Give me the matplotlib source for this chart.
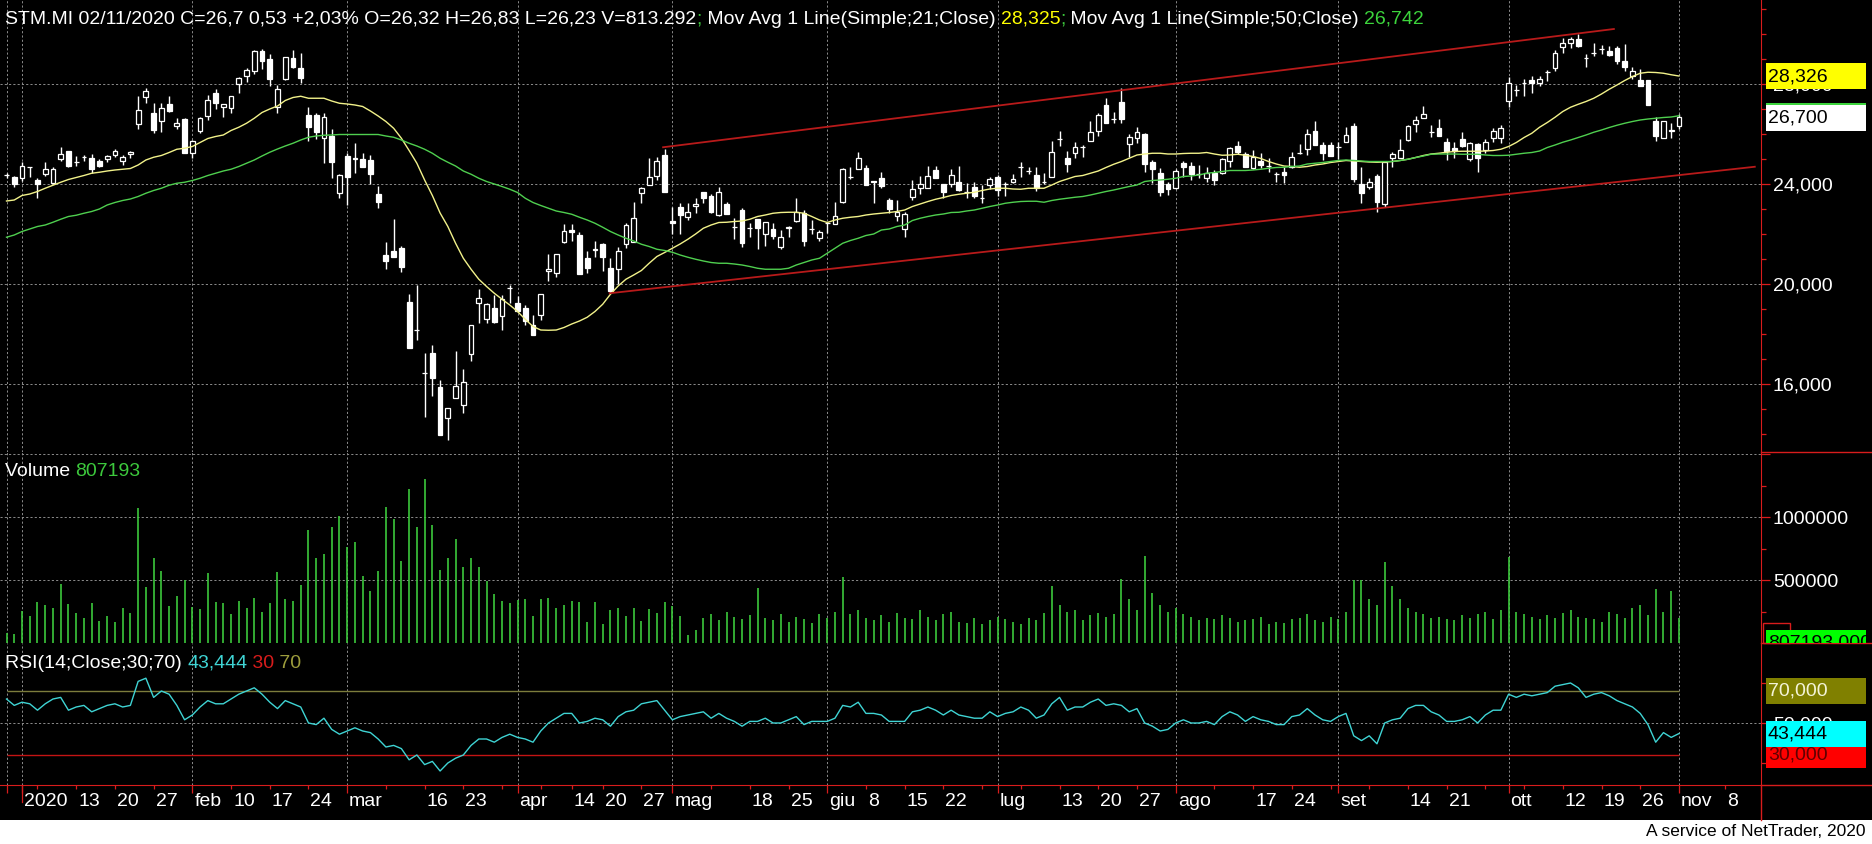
import matplotlib.pyplot as plt
import matplotlib.transforms as mtransforms
import numpy as np
import pandas as pd
from matplotlib.patches import Rectangle
from matplotlib.ticker import FixedLocator, FuncFormatter, MultipleLocator

plt.switch_backend("Agg")
plt.rcParams["font.family"] = ["Liberation Sans", "DejaVu Sans"]

# STM.MI daily bars, 30/12/2019 .. 02/11/2020
holidays = ["2020-01-01", "2020-04-10", "2020-04-13", "2020-05-01"]

opens = [
    24.37, 24.31, 24.24, 24.68, 24.17, 24.40, 24.07, 25.00, 25.33, 24.90,
    25.08, 25.07, 24.93, 25.00, 25.16, 24.95, 25.23, 26.40, 27.48, 26.84,
    26.52, 27.20, 26.35, 26.60, 25.27, 26.12, 26.72, 27.64, 27.11, 27.07,
    28.00, 28.33, 28.52, 29.32, 29.01, 27.08, 28.23, 29.05, 28.67, 26.77,
    26.77, 25.84, 25.93, 23.64, 25.13, 25.01, 25.01, 24.97, 23.61, 21.17,
    21.35, 21.44, 19.28, 18.19, 16.47, 17.24, 15.91, 14.64, 15.44, 15.17,
    17.21, 19.24, 18.60, 19.07, 18.73, 19.87, 19.24, 19.04, 18.36, 18.77,
    20.55, 20.44, 21.68, 22.19, 21.97, 21.07, 21.37, 21.60, 20.64, 20.60,
    21.60, 21.71, 23.64, 23.97, 24.33, 25.17, 22.52, 23.08, 22.68, 23.13,
    23.68, 23.55, 22.77, 23.21, 22.31, 22.97, 22.27, 22.60, 22.00, 22.20,
    21.51, 22.25, 22.55, 22.87, 22.20, 21.84, 22.47, 22.41, 23.31, 24.31,
    24.60, 24.64, 24.12, 24.24, 23.37, 22.73, 22.20, 23.51, 23.84, 23.84,
    24.57, 24.01, 24.01, 24.11, 23.68, 23.91, 23.47, 23.97, 24.31, 24.01,
    24.08, 24.69, 24.53, 24.37, 24.11, 24.31, 25.83, 25.07, 25.27, 25.51,
    25.75, 26.15, 27.16, 26.60, 27.29, 25.60, 25.84, 26.01, 24.88, 24.47,
    24.01, 23.84, 24.87, 24.73, 24.40, 24.24, 24.47, 24.44, 24.95, 25.53,
    25.21, 24.64, 24.93, 24.73, 24.40, 24.49, 24.68, 25.27, 25.40, 26.15,
    25.57, 25.57, 25.51, 25.69, 26.35, 24.01, 23.88, 24.33, 23.21, 25.04,
    25.04, 25.76, 26.40, 26.67, 26.11, 26.24, 25.71, 25.47, 25.80, 25.00,
    25.60, 25.37, 25.87, 25.84, 27.33, 27.77, 28.07, 28.17, 28.04, 28.48,
    28.67, 29.51, 29.67, 29.81, 29.04, 29.24, 29.41, 29.33, 29.44, 28.95,
    28.35, 28.17, 28.17, 26.53, 25.87, 26.15, 26.32,
]
highs = [
    24.47, 24.33, 24.91, 24.71, 24.24, 24.88, 24.68, 25.48, 25.35, 25.15,
    25.17, 25.20, 25.00, 25.17, 25.41, 25.17, 25.33, 27.53, 27.87, 27.24,
    27.24, 27.52, 26.67, 26.67, 25.77, 26.68, 27.57, 27.80, 27.20, 27.55,
    28.31, 28.64, 29.37, 29.41, 29.21, 27.97, 29.11, 29.37, 29.27, 27.08,
    26.84, 26.84, 26.20, 24.41, 25.24, 25.64, 25.24, 25.17, 23.93, 21.69,
    22.60, 21.53, 19.60, 19.97, 17.27, 17.57, 16.17, 15.07, 17.33, 16.60,
    18.39, 19.81, 19.24, 19.57, 19.57, 19.97, 19.55, 19.17, 18.77, 19.60,
    21.20, 21.20, 22.41, 22.41, 22.08, 21.33, 21.73, 21.64, 21.04, 21.51,
    22.47, 23.28, 23.91, 25.04, 25.11, 25.41, 23.08, 23.24, 23.24, 23.44,
    23.68, 23.60, 23.91, 23.28, 22.64, 23.04, 22.44, 22.60, 22.51, 22.47,
    22.17, 22.33, 23.44, 22.97, 22.57, 22.17, 22.51, 23.31, 24.67, 24.71,
    25.28, 24.76, 24.15, 24.51, 23.44, 23.37, 22.88, 24.17, 24.33, 24.73,
    24.73, 24.01, 24.60, 24.73, 24.07, 24.11, 23.97, 24.31, 24.37, 24.11,
    24.40, 24.88, 24.71, 24.71, 24.47, 25.73, 26.13, 25.33, 25.71, 25.57,
    26.53, 26.84, 27.44, 26.91, 27.84, 26.01, 26.28, 26.04, 24.97, 24.64,
    24.11, 24.60, 24.95, 24.91, 24.77, 24.71, 24.57, 25.07, 25.51, 25.73,
    25.31, 25.37, 25.27, 25.04, 24.51, 24.71, 25.31, 25.61, 26.21, 26.53,
    25.68, 25.71, 25.68, 26.31, 26.44, 24.71, 24.24, 24.41, 24.95, 25.31,
    25.80, 26.37, 26.73, 27.13, 26.37, 26.61, 25.84, 25.71, 26.08, 25.71,
    25.67, 25.80, 26.24, 26.37, 28.31, 27.97, 28.21, 28.33, 28.33, 28.57,
    29.37, 29.87, 29.91, 30.01, 29.21, 29.67, 29.57, 29.53, 29.53, 29.60,
    28.71, 28.60, 28.17, 26.71, 26.53, 26.47, 26.83,
]
lows = [
    24.24, 23.91, 24.15, 24.31, 23.44, 24.35, 24.01, 24.95, 24.69, 24.75,
    24.95, 24.44, 24.68, 24.91, 25.11, 24.79, 25.07, 26.20, 27.24, 26.04,
    26.08, 26.88, 26.20, 25.24, 25.07, 26.07, 26.57, 27.00, 26.68, 26.84,
    27.64, 28.08, 28.40, 28.61, 27.95, 26.84, 28.17, 28.67, 28.07, 25.75,
    25.80, 24.87, 24.27, 23.44, 23.17, 24.44, 24.71, 24.01, 23.07, 20.63,
    21.08, 20.51, 17.44, 17.77, 14.68, 15.53, 13.97, 13.77, 15.44, 14.84,
    16.93, 18.47, 18.44, 18.44, 18.17, 19.24, 18.91, 18.37, 17.97, 18.57,
    20.15, 20.28, 21.64, 21.75, 20.41, 20.47, 21.11, 20.55, 19.64, 20.01,
    21.44, 21.71, 23.24, 23.97, 24.17, 23.71, 22.01, 22.01, 22.57, 22.84,
    23.27, 22.87, 22.73, 22.81, 21.80, 21.51, 21.91, 21.40, 21.55, 21.80,
    21.40, 21.88, 22.51, 21.55, 22.01, 21.75, 22.04, 22.40, 23.27, 24.20,
    24.60, 23.97, 23.27, 23.84, 22.87, 22.55, 21.88, 23.37, 23.61, 23.84,
    24.24, 23.47, 23.88, 23.75, 23.44, 23.44, 23.24, 23.80, 23.55, 23.55,
    24.04, 24.31, 24.40, 23.73, 24.01, 24.28, 25.53, 24.51, 25.07, 25.11,
    25.75, 25.93, 26.47, 26.47, 26.44, 25.11, 25.64, 24.51, 24.04, 23.53,
    23.57, 23.80, 24.31, 24.17, 24.24, 24.11, 23.97, 24.40, 24.71, 25.21,
    24.68, 24.60, 24.64, 24.51, 24.11, 24.07, 24.64, 25.21, 25.17, 25.57,
    24.97, 25.13, 25.01, 25.69, 24.11, 23.24, 23.81, 22.91, 23.11, 24.71,
    25.04, 25.75, 26.11, 26.67, 25.88, 25.93, 24.97, 25.04, 25.51, 24.95,
    24.51, 25.27, 25.68, 25.64, 27.11, 27.55, 27.55, 27.67, 27.93, 28.13,
    28.55, 29.27, 29.44, 29.51, 28.71, 29.15, 29.20, 29.15, 28.80, 28.53,
    28.21, 27.95, 27.17, 25.75, 25.87, 25.87, 26.23,
]
closes = [
    24.38, 24.00, 24.73, 24.69, 24.01, 24.60, 24.60, 25.20, 24.71, 24.88,
    25.10, 24.60, 24.75, 25.12, 25.32, 25.08, 25.31, 26.96, 27.71, 26.17,
    27.03, 26.91, 26.44, 25.27, 25.71, 26.64, 27.37, 27.24, 27.20, 27.52,
    28.24, 28.56, 29.32, 28.95, 28.20, 27.80, 29.08, 28.71, 28.27, 26.31,
    26.11, 26.68, 24.87, 24.37, 24.31, 25.07, 24.71, 24.41, 23.31, 20.95,
    21.11, 20.71, 17.44, 18.17, 16.45, 16.24, 13.97, 15.07, 15.93, 16.08,
    18.39, 19.44, 19.20, 18.49, 19.40, 19.84, 18.91, 18.51, 17.97, 19.60,
    20.60, 21.20, 22.15, 22.11, 20.41, 20.64, 21.41, 21.11, 19.75, 21.35,
    22.37, 22.64, 23.87, 24.28, 24.93, 23.71, 22.44, 22.77, 22.87, 23.21,
    23.44, 22.91, 23.67, 22.81, 22.28, 21.64, 22.25, 22.24, 22.48, 21.91,
    21.91, 22.28, 22.91, 21.75, 22.20, 22.11, 22.44, 22.71, 24.60, 24.31,
    25.04, 23.97, 24.09, 23.91, 23.01, 22.91, 22.81, 23.80, 24.00, 24.33,
    24.24, 23.71, 24.36, 23.75, 23.68, 23.51, 23.47, 24.20, 23.77, 24.01,
    24.20, 24.69, 24.53, 23.84, 24.11, 25.31, 25.83, 24.80, 25.48, 25.51,
    26.11, 26.75, 26.47, 26.60, 26.60, 25.88, 26.11, 24.80, 24.60, 23.67,
    23.83, 24.53, 24.71, 24.41, 24.40, 24.47, 24.17, 25.01, 25.44, 25.31,
    24.71, 25.11, 24.77, 24.73, 24.40, 24.37, 25.08, 25.27, 26.00, 25.57,
    25.27, 25.13, 25.51, 25.97, 24.23, 23.64, 24.11, 23.31, 24.91, 25.20,
    25.35, 26.33, 26.57, 26.80, 26.11, 25.93, 25.33, 25.33, 25.51, 25.64,
    25.07, 25.71, 26.15, 26.27, 28.04, 27.77, 28.07, 28.04, 28.20, 28.48,
    29.24, 29.64, 29.81, 29.51, 29.04, 29.24, 29.41, 29.15, 28.95, 28.67,
    28.55, 27.95, 27.17, 25.93, 26.53, 26.17, 26.70,
]
ma21 = [
    23.33, 23.37, 23.55, 23.61, 23.71, 23.84, 23.96, 24.08, 24.19, 24.27,
    24.35, 24.44, 24.48, 24.53, 24.57, 24.60, 24.63, 24.77, 24.97, 25.08,
    25.15, 25.27, 25.40, 25.44, 25.51, 25.67, 25.83, 25.91, 25.97, 26.15,
    26.28, 26.44, 26.64, 26.87, 27.01, 27.13, 27.35, 27.47, 27.52, 27.44,
    27.44, 27.44, 27.33, 27.24, 27.21, 27.17, 27.11, 26.93, 26.73, 26.51,
    26.24, 25.84, 25.35, 24.84, 24.17, 23.55, 22.85, 22.31, 21.64, 21.04,
    20.60, 20.20, 19.91, 19.64, 19.40, 19.17, 18.91, 18.60, 18.31, 18.17,
    18.16, 18.17, 18.27, 18.41, 18.53, 18.68, 18.91, 19.20, 19.60, 19.93,
    20.20, 20.37, 20.55, 20.84, 21.11, 21.27, 21.44, 21.61, 21.80, 22.01,
    22.24, 22.37, 22.47, 22.48, 22.51, 22.53, 22.60, 22.71, 22.77, 22.84,
    22.87, 22.88, 22.88, 22.84, 22.71, 22.57, 22.47, 22.57, 22.64, 22.68,
    22.71, 22.77, 22.81, 22.84, 22.87, 22.91, 22.97, 23.11, 23.21, 23.31,
    23.40, 23.47, 23.55, 23.60, 23.64, 23.68, 23.75, 23.81, 23.84, 23.84,
    23.81, 23.80, 23.84, 23.84, 23.84, 23.97, 24.11, 24.21, 24.31, 24.35,
    24.44, 24.53, 24.67, 24.80, 24.91, 25.04, 25.17, 25.21, 25.24, 25.24,
    25.21, 25.21, 25.23, 25.24, 25.24, 25.27, 25.21, 25.16, 25.17, 25.20,
    25.16, 25.11, 25.03, 24.91, 24.81, 24.73, 24.71, 24.68, 24.71, 24.77,
    24.81, 24.87, 24.91, 24.95, 24.93, 24.91, 24.89, 24.88, 24.89, 24.91,
    24.95, 25.00, 25.07, 25.15, 25.21, 25.24, 25.28, 25.31, 25.32, 25.32,
    25.32, 25.33, 25.35, 25.40, 25.51, 25.67, 25.87, 26.04, 26.28, 26.47,
    26.68, 26.91, 27.08, 27.20, 27.31, 27.44, 27.61, 27.80, 27.97, 28.15,
    28.31, 28.44, 28.48, 28.47, 28.44, 28.38, 28.33,
]
ma50 = [
    21.88, 21.97, 22.11, 22.21, 22.31, 22.37, 22.48, 22.60, 22.71, 22.76,
    22.84, 22.91, 23.01, 23.17, 23.27, 23.35, 23.41, 23.51, 23.64, 23.75,
    23.84, 23.96, 24.04, 24.08, 24.15, 24.24, 24.35, 24.44, 24.53, 24.60,
    24.71, 24.84, 24.97, 25.13, 25.28, 25.41, 25.53, 25.64, 25.77, 25.88,
    25.93, 25.96, 25.97, 25.99, 25.99, 25.99, 25.99, 25.99, 25.99, 25.93,
    25.88, 25.77, 25.64, 25.53, 25.40, 25.24, 25.04, 24.88, 24.73, 24.53,
    24.40, 24.24, 24.11, 24.01, 23.91, 23.80, 23.67, 23.44, 23.27, 23.15,
    23.04, 22.93, 22.87, 22.80, 22.68, 22.57, 22.44, 22.28, 22.11, 21.97,
    21.84, 21.73, 21.60, 21.51, 21.40, 21.35, 21.28, 21.17, 21.08, 21.00,
    20.93, 20.87, 20.84, 20.84, 20.81, 20.77, 20.71, 20.64, 20.60, 20.60,
    20.60, 20.64, 20.77, 20.87, 20.97, 21.04, 21.24, 21.44, 21.64, 21.75,
    21.84, 21.95, 22.01, 22.17, 22.21, 22.31, 22.37, 22.55, 22.64, 22.71,
    22.77, 22.81, 22.87, 22.88, 22.93, 22.97, 23.04, 23.11, 23.17, 23.24,
    23.28, 23.31, 23.32, 23.32, 23.28, 23.35, 23.40, 23.44, 23.48, 23.51,
    23.57, 23.64, 23.71, 23.77, 23.84, 23.91, 23.97, 24.11, 24.15, 24.17,
    24.20, 24.24, 24.31, 24.33, 24.37, 24.44, 24.47, 24.51, 24.55, 24.55,
    24.55, 24.57, 24.60, 24.64, 24.67, 24.68, 24.71, 24.73, 24.81, 24.84,
    24.87, 24.91, 24.95, 24.97, 24.95, 24.93, 24.91, 24.91, 24.91, 24.91,
    24.95, 25.00, 25.07, 25.13, 25.20, 25.21, 25.21, 25.21, 25.20, 25.20,
    25.20, 25.17, 25.15, 25.15, 25.16, 25.20, 25.24, 25.27, 25.33, 25.47,
    25.57, 25.68, 25.77, 25.87, 25.97, 26.08, 26.17, 26.27, 26.36, 26.44,
    26.51, 26.57, 26.61, 26.64, 26.67, 26.69, 26.74,
]
volume_k = [
    79, 69, 251, 212, 323, 299, 275, 466, 307, 235,
    196, 315, 172, 212, 164, 275, 238, 1069, 442, 672,
    569, 291, 370, 497, 286, 272, 553, 323, 315, 228,
    331, 275, 354, 243, 315, 561, 347, 331, 458, 894,
    672, 704, 918, 1011, 759, 799, 529, 410, 569, 1077,
    981, 648, 1220, 918, 1299, 934, 577, 672, 823, 601,
    672, 601, 489, 386, 331, 315, 339, 347, 212, 347,
    360, 275, 299, 331, 323, 164, 323, 148, 259, 275,
    212, 275, 172, 267, 235, 323, 291, 212, 61, 101,
    200, 230, 180, 250, 210, 190, 220, 435, 200, 180,
    230, 170, 210, 190, 160, 230, 200, 250, 520, 230,
    260, 200, 180, 220, 170, 240, 200, 190, 260, 210,
    180, 230, 250, 170, 160, 200, 150, 180, 210, 190,
    170, 150, 200, 180, 240, 455, 300, 250, 260, 180,
    220, 240, 210, 230, 511, 350, 260, 690, 400, 300,
    250, 280, 230, 210, 180, 200, 190, 220, 200, 170,
    180, 190, 210, 150, 170, 160, 190, 200, 230, 180,
    170, 210, 190, 250, 500, 500, 350, 300, 644, 450,
    350, 280, 250, 230, 200, 210, 190, 180, 220, 200,
    230, 250, 190, 260, 680, 250, 230, 210, 190, 220,
    200, 240, 260, 210, 200, 190, 170, 250, 230, 200,
    280, 300, 220, 426, 250, 416, 200,
]
rsi14 = [
    65, 61, 63, 62, 58, 62, 65, 66, 58, 60,
    61, 57, 59, 61, 62, 60, 61, 76, 78, 66,
    70, 68, 61, 52, 55, 60, 64, 62, 62, 65,
    68, 70, 72, 68, 63, 59, 64, 62, 60, 50,
    49, 53, 46, 43, 45, 47, 45, 44, 40, 35,
    36, 34, 27, 30, 24, 26, 20, 25, 28, 30,
    36, 40, 40, 38, 41, 43, 41, 40, 38, 45,
    50, 53, 56, 56, 50, 51, 53, 52, 48, 54,
    57, 58, 62, 63, 64, 58, 52, 54, 55, 56,
    57, 53, 56, 53, 51, 48, 51, 51, 53, 50,
    50, 52, 54, 49, 51, 51, 51, 53, 61, 60,
    63, 56, 56, 55, 51, 51, 51, 57, 58, 60,
    58, 55, 58, 55, 54, 53, 53, 57, 54, 56,
    57, 60, 58, 53, 55, 62, 66, 58, 60, 60,
    63, 65, 61, 62, 61, 57, 59, 50, 48, 45,
    46, 50, 52, 50, 50, 51, 49, 54, 57, 55,
    51, 54, 52, 51, 49, 49, 54, 55, 59, 55,
    52, 51, 54, 56, 42, 39, 42, 37, 50, 52,
    53, 59, 61, 61, 57, 55, 51, 51, 52, 54,
    50, 55, 58, 58, 68, 66, 68, 67, 68, 69,
    73, 74, 75, 72, 66, 68, 69, 67, 64, 62,
    60, 56, 49, 38, 44, 41, 43.4,
]

# hand-drawn trend channel (bar number counted from 30/12/2019, price)
upper_bar = [84.8, 207.6]
upper_val = [25.48, 30.21]
lower_bar = [77.9, 225.8]
lower_val = [19.64, 24.70]

tick_dates = [
    "2020-01-02", "2020-01-13", "2020-01-20", "2020-01-27", "2020-02-03", "2020-02-10",
    "2020-02-17", "2020-02-24", "2020-03-02", "2020-03-16", "2020-03-23", "2020-04-01",
    "2020-04-14", "2020-04-20", "2020-04-27", "2020-05-04", "2020-05-18", "2020-05-25",
    "2020-06-01", "2020-06-08", "2020-06-15", "2020-06-22", "2020-07-01", "2020-07-13",
    "2020-07-20", "2020-07-27", "2020-08-03", "2020-08-17", "2020-08-24", "2020-09-01",
    "2020-09-14", "2020-09-21", "2020-10-01", "2020-10-12", "2020-10-19", "2020-10-26",
    "2020-11-02", "2020-11-08",
]
tick_labels = [
    "2020", "13", "20", "27", "feb", "10", "17", "24", "mar", "16", "23", "apr",
    "14", "20", "27", "mag", "18", "25", "giu", "8", "15", "22", "lug", "13",
    "20", "27", "ago", "17", "24", "set", "14", "21", "ott", "12", "19", "26",
    "nov", "8",
]

W, H = 1872, 844
RED = "#d81c1c"
GRID = "#8c8c8c"
DASH = (0, (2.2, 2.2))

dates = pd.bdate_range("2019-12-30", "2020-11-02")
dates = dates[~dates.isin(pd.to_datetime(holidays))]
n = len(dates)
pos = np.arange(n)


def date_pos(d):
    d = pd.Timestamp(d)
    if d <= dates[-1]:
        return dates.get_loc(d)
    # the blank part of the axis after the last bar runs on calendar days
    return n - 1 + (d - dates[-1]).days


s = pd.Series(pos, index=dates)
month_pos = s.groupby([dates.year, dates.month]).first().values
iso = dates.isocalendar()
week_pos = s.groupby([iso["year"].values, iso["week"].values]).first().values
label_pos = [date_pos(d) for d in tick_dates]
minor_pos = sorted(set(week_pos) | set(label_pos) - set(month_pos))

fig = plt.figure(figsize=(W / 100, H / 100), dpi=100, facecolor="black")
PX = mtransforms.Affine2D().scale(1 / W, -1 / H).translate(0, 1) + fig.transFigure


def panel(top, bottom, share=None):
    return fig.add_axes([0, 1 - bottom / H, 1761 / W, (bottom - top) / H],
                        facecolor="black", sharex=share)


ax_p = panel(0, 452)
ax_v = panel(452, 643, ax_p)
ax_r = panel(643, 785, ax_p)

for ax in (ax_p, ax_v, ax_r):
    for side in ("left", "top", "bottom"):
        ax.spines[side].set_visible(False)
    ax.spines["right"].set_color(RED)
    ax.yaxis.tick_right()
    ax.tick_params(axis="y", which="major", colors=RED, labelcolor="white",
                   length=6.5, width=0.9, labelsize=14, pad=2)
    ax.tick_params(axis="y", which="minor", colors=RED, length=3.6, width=0.9)
    ax.tick_params(axis="x", which="both", bottom=False, labelbottom=False)
    ax.grid(True, which="major", color=GRID, linestyle=DASH, linewidth=0.7)
    ax.set_axisbelow(True)

ax_p.set_xlim(-0.84, 226.6)
ax_p.xaxis.set_major_locator(FixedLocator(month_pos))
ax_p.xaxis.set_minor_locator(FixedLocator(minor_pos))

# price panel
o, h, l, c = (np.array(a) for a in (opens, highs, lows, closes))
ax_p.vlines(pos, l, h, color="white", linewidth=1, zorder=2)
ax_p.bar(pos, c - o, bottom=o, width=0.62, color=np.where(c >= o, "black", "white"),
         edgecolor="white", linewidth=0.9, zorder=3)
ax_p.plot(pos, ma21, color="#f2f28a", linewidth=1, zorder=4)
ax_p.plot(pos, ma50, color="#4fcf4f", linewidth=1, zorder=4)
ax_p.plot(upper_bar, upper_val, color="#b81a1a", linewidth=1.3, zorder=4)
ax_p.plot(lower_bar, lower_val, color="#b81a1a", linewidth=1.3, zorder=4)
ax_p.set_ylim(13.29, 31.37)
ax_p.yaxis.set_major_locator(MultipleLocator(4))
ax_p.yaxis.set_minor_locator(MultipleLocator(1))
ax_p.yaxis.set_major_formatter(FuncFormatter(lambda v, _: f"{v:.3f}".replace(".", ",")))

# volume panel
ax_v.vlines(pos, 0, np.array(volume_k) * 1000, color="#3cc83c", linewidth=1.2)
ax_v.set_ylim(0, 1516000)
ax_v.yaxis.set_major_locator(FixedLocator([500000, 1000000, 1500000]))
ax_v.yaxis.set_minor_locator(FixedLocator([250000, 750000, 1250000]))
ax_v.yaxis.set_major_formatter(FuncFormatter(lambda v, _: f"{v:.0f}" if v < 1400000 else ""))

# RSI panel
ax_r.plot(pos, rsi14, color="#3fd4d4", linewidth=1, zorder=3)
ax_r.hlines(70, pos[0], pos[-1], color="#7c7c3c", linewidth=1, zorder=2)
ax_r.hlines(30, pos[0], pos[-1], color="#c41414", linewidth=1, zorder=2)
ax_r.set_ylim(11.25, 100)
ax_r.yaxis.set_major_locator(FixedLocator([50]))
ax_r.yaxis.set_minor_locator(FixedLocator([25, 75]))
ax_r.yaxis.set_major_formatter(FuncFormatter(lambda v, _: f"{v:.3f}".replace(".", ",")))

# date axis under the RSI panel
ax_r.spines["bottom"].set_visible(True)
ax_r.spines["bottom"].set_color(RED)
ax_r.tick_params(axis="x", which="major", bottom=True, colors=RED, length=5.8, width=0.9)
ax_r.tick_params(axis="x", which="minor", bottom=True, colors=RED, length=2.9, width=0.9)
bl = mtransforms.blended_transform_factory(ax_r.transData, ax_r.transAxes)
p0 = date_pos("2020-01-02")
ax_r.plot([p0, p0], [-17 / 142, 0], transform=bl, color=RED, linewidth=0.9, clip_on=False)
lab_tr = mtransforms.offset_copy(bl, fig, x=2, y=0, units="dots")
for p, t in zip(label_pos, tick_labels):
    ax_r.text(p, -16 / 142, t, transform=lab_tr, color="white", fontsize=14,
              ha="left", va="center", clip_on=False)

# frame pieces outside the panels
for y in (452, 643, 784.5):
    fig.add_artist(plt.Line2D([1761, W], [y, y], transform=PX, color=RED, linewidth=1))
fig.add_artist(plt.Line2D([1761, 1761], [785, 820], transform=PX, color=RED, linewidth=1))
fig.add_artist(Rectangle((0, 820), W, 24, transform=PX, facecolor="white",
                         edgecolor="none", zorder=1))
fig.text(1866, 832, "A service of NetTrader, 2020", transform=PX, color="black",
         fontsize=12.5, ha="right", va="center")


def chain(x, y, parts, size=14):
    r = fig.canvas.get_renderer()
    for txt, col in parts:
        t = fig.text(x, y, txt, transform=PX, color=col, fontsize=size,
                     ha="left", va="center", zorder=6)
        x = t.get_window_extent(r).x1


chain(5, 19, [
    ("STM.MI 02/11/2020 C=26,7 0,53 +2,03% O=26,32 H=26,83 L=26,23 V=813.292", "white"),
    (";", "#3cc83c"), (" Mov Avg 1 Line(Simple;21;Close) ", "white"), ("28,325", "#ffff00"),
    (";", "#3cc83c"), (" Mov Avg 1 Line(Simple;50;Close) ", "white"), ("26,742", "#3cd43c"),
])
chain(5, 472, [("Volume ", "white"), ("807193", "#3cc83c")])
chain(5, 663, [("RSI(14;Close;30;70) ", "white"), ("43,444", "#3fd4d4"),
               (" 30", "#d81c1c"), (" 70", "#9c9c3c")])


def y_px(ax, v):
    return H - ax.transData.transform((0, v))[1]


def tag(ax, v, text, fc, tc, y_off=0.0):
    yc = y_px(ax, v) + y_off
    box = Rectangle((1766, yc - 13), 100, 26, transform=PX, facecolor=fc,
                    edgecolor="none", zorder=5)
    fig.add_artist(box)
    fig.text(1768, yc + 0.5, text, transform=PX, color=tc, fontsize=14,
             ha="left", va="center", zorder=6)


tag(ax_p, ma50[-1], "", "#3cd43c", "black")
tag(ax_p, closes[-1], "26,700", "white", "black", 1.0)
tag(ax_p, ma21[-1], "28,326", "#ffff00", "black")
tag(ax_r, 70, "70,000", "#808000", "#f4f4d8")
tag(ax_r, 30, "30,000", "#ff0000", "#600000")
tag(ax_r, rsi14[-1], "43,444", "#00ffff", "black")

# volume value tag squeezed at the bottom of its panel
fig.add_artist(Rectangle((1763, 623), 27, 20, transform=PX, facecolor="none",
                         edgecolor=RED, linewidth=1, zorder=5))
vbox = Rectangle((1766, 630), 100, 13, transform=PX, facecolor="#00ff00",
                 edgecolor="none", zorder=5)
fig.add_artist(vbox)
vt = fig.text(1768, 643, "807193,000", transform=PX, color="black", fontsize=14,
              ha="left", va="center", zorder=6)
vt.set_clip_path(vbox)

fig.savefig("out.png", dpi=100, facecolor=fig.get_facecolor())
